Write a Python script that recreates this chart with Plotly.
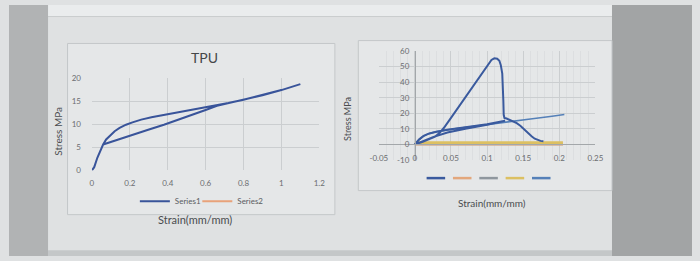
import plotly.graph_objects as go

W, H = 700, 261
def PX(x): return x / W
def PY(y): return 1 - y / H

# ---------------- data: left chart (TPU) ----------------
tpu_strain = [0, 0.012, 0.029, 0.045, 0.059, 0.075, 0.096, 0.12, 0.146, 0.18, 0.214, 0.26, 0.314,
              0.38, 0.449, 0.52, 0.6, 0.66, 0.72, 0.8, 0.9, 1.0, 1.1,
              1.0, 0.9, 0.8, 0.72, 0.66, 0.6, 0.52, 0.449, 0.38, 0.297, 0.22, 0.146, 0.1, 0.059]
tpu_stress = [0, 0.7, 2.8, 4.3, 5.6, 6.7, 7.6, 8.5, 9.2, 9.9, 10.4, 11.0, 11.5,
              12.0, 12.5, 13.0, 13.6, 14.1, 14.6, 15.3, 16.3, 17.4, 18.7,
              17.4, 16.3, 15.3, 14.6, 14.0, 13.1, 11.9, 10.9, 9.9, 8.8, 7.8, 6.8, 6.2, 5.6]
tpu_s2_strain = [None]
tpu_s2_stress = [None]
left_names = ["Series1", "Series2"]
left_colors = ["#39549a", "#e8a27a"]
left_xticks = [0, 0.2, 0.4, 0.6, 0.8, 1, 1.2]
left_yticks = [0, 5, 10, 15, 20]

# ---------------- data: right chart ----------------
r1_strain = [0, 0.006, 0.012, 0.02, 0.03, 0.045, 0.07, 0.1, 0.125,
             0.1, 0.07, 0.045, 0.025, 0.012, 0.004, 0,
             0.01, 0.02, 0.028, 0.034, 0.04, 0.05, 0.06, 0.07, 0.08, 0.09, 0.097, 0.102,
             0.106, 0.11, 0.114, 0.117, 0.119, 0.121, 0.122, 0.1225, 0.123, 0.124, 0.127,
             0.131, 0.136, 0.141, 0.146, 0.15, 0.154, 0.158, 0.162, 0.166, 0.17, 0.174, 0.178]
r1_stress = [0, 3.2, 5.4, 7.0, 8.1, 9.4, 11.0, 12.9, 15.2,
             12.6, 10.0, 7.6, 4.6, 2.4, 0.8, 0,
             1.5, 3.2, 5.0, 7.2, 10.5, 17.0, 23.8, 30.6, 37.4, 44.0, 48.5, 52.0,
             54.3, 55.4, 55.1, 53.8, 51.0, 45.5, 38.0, 28.0, 19.0, 17.0, 16.6,
             15.8, 14.8, 13.6, 12.0, 10.2, 8.3, 6.5, 5.0, 3.6, 2.8, 2.2, 2.0]
r2_strain = [0, 0.05, 0.1, 0.15, 0.205]
r2_stress = [0.2, 0.2, 0.2, 0.2, 0.2]
r3_strain = [0, 0.05, 0.1, 0.15, 0.205]
r3_stress = [0, 0, 0, 0, 0]
r4_strain = [0, 0.05, 0.1, 0.15, 0.205]
r4_stress = [1.0, 1.0, 1.0, 1.0, 1.0]
r5_strain = [0, 0.004, 0.01, 0.018, 0.028, 0.04, 0.06, 0.08, 0.1, 0.13, 0.16, 0.19, 0.207]
r5_stress = [0, 2.2, 4.6, 6.6, 8.0, 9.0, 10.3, 11.5, 12.8, 14.6, 16.3, 18.1, 19.2]
right_colors = ["#3a5a9e", "#e3a77c", "#8f979e", "#dcc062", "#5580b8"]
right_xticks = [-0.05, 0, 0.05, 0.1, 0.15, 0.2, 0.25]
right_yticks = [-10, 0, 10, 20, 30, 40, 50, 60]

FONT = "Lato"
TICK = dict(family=FONT, size=8, color="#6b6d70")
GRID = "#cbced0"

fig = go.Figure()

# left traces
fig.add_trace(go.Scatter(x=tpu_strain, y=tpu_stress, mode="lines", name=left_names[0],
                         line=dict(color=left_colors[0], width=2), xaxis="x", yaxis="y",
                         legend="legend"))
fig.add_trace(go.Scatter(x=tpu_s2_strain, y=tpu_s2_stress, mode="lines", name=left_names[1],
                         line=dict(color=left_colors[1], width=2), xaxis="x", yaxis="y",
                         legend="legend2"))

# right traces (drawn so blue curves sit on top)
right_data = [(r1_strain, r1_stress), (r2_strain, r2_stress), (r3_strain, r3_stress),
              (r4_strain, r4_stress), (r5_strain, r5_stress)]
widths = [2, 3, 2, 3, 1.6]
order = [2, 1, 3, 4, 0]
for i in order:
    xs, ys = right_data[i]
    fig.add_trace(go.Scatter(x=xs, y=ys, mode="lines", name="",
                             line=dict(color=right_colors[i], width=widths[i]),
                             xaxis="x2", yaxis="y2", showlegend=False))

shapes = []
# background areas (photo of a screen)
shapes.append(dict(type="rect", xref="paper", yref="paper", x0=PX(40), x1=PX(618), y0=PY(261), y1=PY(0),
                   fillcolor="#dfe1e2", line=dict(width=0), layer="below"))
shapes.append(dict(type="rect", xref="paper", yref="paper", x0=PX(40), x1=PX(618), y0=PY(12), y1=PY(0),
                   fillcolor="#eaeced", line=dict(width=0), layer="below"))
shapes.append(dict(type="line", xref="paper", yref="paper", x0=PX(40), x1=PX(618), y0=PY(12), y1=PY(12),
                   line=dict(color="#c9cccd", width=1), layer="below"))
shapes.append(dict(type="rect", xref="paper", yref="paper", x0=0, x1=PX(40), y0=0, y1=1,
                   fillcolor="#b1b3b4", line=dict(width=0), layer="below"))
shapes.append(dict(type="rect", xref="paper", yref="paper", x0=PX(618), x1=1, y0=0, y1=1,
                   fillcolor="#a2a4a5", line=dict(width=0), layer="below"))
shapes.append(dict(type="rect", xref="paper", yref="paper", x0=PX(40), x1=PX(618), y0=0, y1=PY(255),
                   fillcolor="#c4c7c8", line=dict(width=0), layer="below"))
# chart boxes
shapes.append(dict(type="rect", xref="paper", yref="paper", x0=PX(60), x1=PX(334), y0=PY(218), y1=PY(40),
                   fillcolor="#e5e7e8", line=dict(color="#c4c7c9", width=1), layer="below"))
shapes.append(dict(type="rect", xref="paper", yref="paper", x0=PX(358), x1=PX(618), y0=PY(193), y1=PY(37),
                   fillcolor="#e5e7e8", line=dict(color="#c4c7c9", width=1), layer="below"))
# right legend keys (series have no names)
key_x = [428, 455, 482, 509, 536]
for c, kx in zip(right_colors, key_x):
    shapes.append(dict(type="line", xref="paper", yref="paper", x0=PX(kx), x1=PX(kx + 19),
                       y0=PY(180), y1=PY(180), line=dict(color=c, width=2.5)))

def ann(text, x, y, size, angle=0, color="#4a4c4f"):
    return dict(text=text, x=PX(x), y=PY(y), xref="paper", yref="paper", showarrow=False,
                xanchor="center", yanchor="middle", textangle=angle,
                font=dict(family=FONT, size=size, color=color))

annotations = [
    ann("TPU", 200, 55, 14, color="#454749"),
    ann("Strain(mm/mm)", 191, 223, 11),
    ann("Strain(mm/mm)", 495, 206, 10),
    ann("Stress MPa", 50, 131, 10, angle=-90),
    ann("Stress MPa", 347, 119, 9, angle=-90),
]

fig.update_layout(
    width=W, height=H, margin=dict(l=0, r=0, t=0, b=0),
    paper_bgcolor="#dfe1e2", plot_bgcolor="rgba(0,0,0,0)",
    shapes=shapes, annotations=annotations,
    xaxis=dict(domain=[PX(85), PX(318)], range=[0, 1.2], tickvals=left_xticks,
               ticktext=[f"{v:g}" for v in left_xticks], showgrid=True, gridcolor=GRID,
               zeroline=False, showline=False, ticks="", tickfont=TICK, anchor="y",
               ticklabelstandoff=7),
    yaxis=dict(domain=[PY(172), PY(76)], range=[0, 20], tickvals=left_yticks,
               ticktext=[f"{v:g}" for v in left_yticks], showgrid=True, gridcolor=GRID,
               zeroline=False, showline=False, ticks="", tickfont=TICK, anchor="x",
               ticklabelstandoff=10),
    xaxis2=dict(domain=[PX(379), PX(601)], range=[-0.05, 0.25], tickvals=right_xticks,
                ticktext=[f"{v:g}" for v in right_xticks], showgrid=True, gridcolor=GRID,
                minor=dict(dtick=0.01, showgrid=True, gridcolor="#dcdee0"),
                zeroline=False, showline=True, linecolor="#a3a7aa", linewidth=1, ticks="",
                tickfont=TICK, anchor="free", position=PY(145), ticklabelstandoff=6),
    yaxis2=dict(domain=[PY(161), PY(48)], range=[-10, 60], tickvals=right_yticks,
                ticktext=[f"{v:g}" for v in right_yticks], showgrid=True, gridcolor=GRID,
                zeroline=False, showline=True, linecolor="#a3a7aa", linewidth=1, ticks="",
                tickfont=TICK, anchor="free", position=PX(416), ticklabelstandoff=4),
    legend=dict(orientation="h", x=PX(129), y=PY(204), xanchor="left", yanchor="middle",
                bgcolor="rgba(0,0,0,0)", font=dict(family=FONT, size=8, color="#5a5c5f"),
                itemwidth=30),
    legend2=dict(orientation="h", x=PX(193), y=PY(204), xanchor="left", yanchor="middle",
                 bgcolor="rgba(0,0,0,0)", font=dict(family=FONT, size=8, color="#5a5c5f"),
                 itemwidth=30),
)

fig.write_html("out.html",
               post_script="document.body.style.margin='0';"
                           "document.documentElement.style.overflow='hidden';")
